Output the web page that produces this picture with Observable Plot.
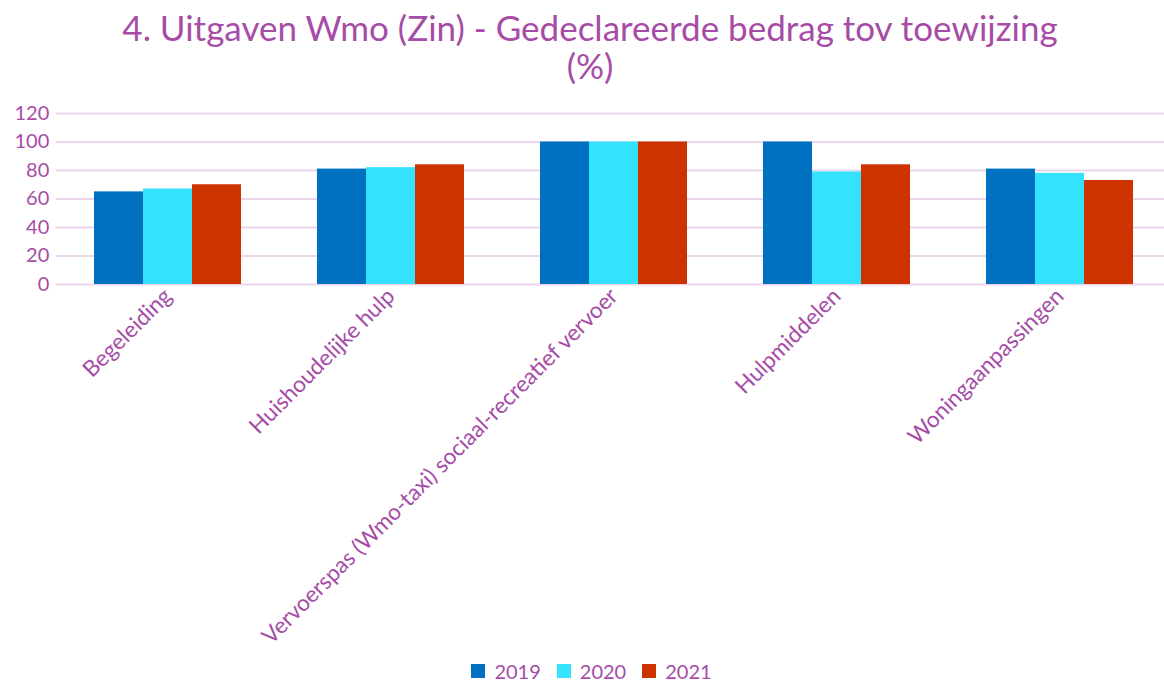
<!DOCTYPE html>
<html><head><meta charset="utf-8">
<script src="https://cdn.jsdelivr.net/npm/d3@7"></script>
<script src="https://cdn.jsdelivr.net/npm/@observablehq/plot@0.6"></script>
<style>
body{margin:0;background:#fff;font-family:Lato,sans-serif;color:#a64ca6;overflow:hidden;width:1164px;height:681px}
#title{height:96px;text-align:center;font-size:35px;line-height:38px;padding-top:8px;box-sizing:border-box;padding-left:16px}
#chart{height:560px}
#legend{display:flex;justify-content:center;align-items:center;padding-left:19px;font-size:20px;line-height:20px;height:20px;margin-top:5px}
.item{display:flex;align-items:center;margin:0 8px}
.sw{width:14px;height:14px;margin-right:9px}
</style></head>
<body>
<div id="title">4. Uitgaven Wmo (Zin) - Gedeclareerde bedrag tov toewijzing<br>(%)</div>
<div id="chart"></div>
<div id="legend"></div>
<script>
const categories = ["Begeleiding","Huishoudelijke hulp","Vervoerspas (Wmo-taxi) sociaal-recreatief vervoer","Hulpmiddelen","Woningaanpassingen"];
const years = ["2019","2020","2021"];
const v2019 = [65, 81, 100, 100, 81];
const v2020 = [67, 82, 100, 79, 78];
const v2021 = [70, 84, 100, 84, 73];
const yTicks = [0, 20, 40, 60, 80, 100, 120];
const colors = ["#0070c0", "#35e2fe", "#cc3300"];
const textColor = "#a64ca6";
const gridColor = "#ebd5eb";

const series = [v2019, v2020, v2021];
const data = [];
categories.forEach((c, i) => years.forEach((y, j) => data.push({category: c, year: y, value: series[j][i]})));

const gap = 37.2; // half of the gap between groups, so grid lines run continuously
const chart = Plot.plot({
  width: 1164, height: 560,
  marginLeft: 55, marginRight: -8, marginTop: 17, marginBottom: 372,
  style: {fontFamily: "Lato, sans-serif", background: "transparent", overflow: "visible"},
  fx: {domain: categories, paddingInner: 0.333, paddingOuter: 0.1667, label: null},
  x: {domain: years, padding: 0, axis: null},
  y: {domain: [0, 120], axis: null},
  color: {domain: years, range: colors},
  marks: [
    Plot.ruleY(yTicks, {stroke: gridColor, strokeWidth: 2, insetLeft: -gap, insetRight: -gap}),
    Plot.axisY(yTicks, {tickSize: 0, tickPadding: 7 + gap, fontSize: 20, fill: textColor, label: null}),
    Plot.barY(data, {fx: "category", x: "year", y: "value", fill: "year"}),
    Plot.axisFx({anchor: "bottom", tickRotate: -45, tickSize: 0, tickPadding: 8, fontSize: 22.5, fill: textColor, label: null})
  ]
});
document.getElementById("chart").appendChild(chart);

const legend = document.getElementById("legend");
years.forEach((y, i) => {
  const it = document.createElement("div");
  it.className = "item";
  it.innerHTML = `<div class="sw" style="background:${colors[i]}"></div><span>${y}</span>`;
  legend.appendChild(it);
});
</script>
</body></html>
